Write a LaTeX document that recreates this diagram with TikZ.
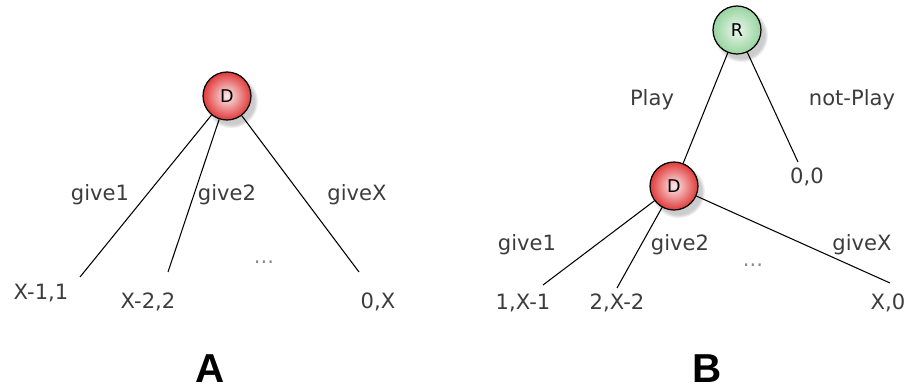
\documentclass[tikz,border=0pt]{standalone}
\usepackage{fontspec}
\setmainfont{DejaVu Sans}
\newfontfamily\fuentetitulo{Liberation Sans}
\usepackage{xcolor}
\usepackage{tikz}
\usetikzlibrary{positioning, shadows}
\definecolor{rojojugador}{HTML}{E03A3A}
\definecolor{verdejugador}{HTML}{98D4A0}
\definecolor{grisetiqueta}{HTML}{3C3C3C}
\definecolor{grispuntos}{HTML}{8A8A8A}

\begin{document}
\begin{tikzpicture}[
    x=0.02cm, y=-0.02cm,
    every node/.style={font=\fontsize{12}{14}\selectfont\color{grisetiqueta}},
    jugador/.style={circle, draw=black, line width=0.7pt, minimum size=0.96cm,
        inner sep=0pt, font=\fontsize{10}{11}\selectfont\color{black},
        circular drop shadow={shadow xshift=0.4ex, shadow yshift=-0.5ex,
            shadow scale=1.12, opacity=0.4}},
    rama/.style={line width=0.6pt, black}
]
\useasboundingbox (0,0) rectangle (910,389);

% arbol A
\node[jugador, inner color=rojojugador!10!white, outer color=rojojugador]
    (dA) at (227,96) {D};
\coordinate (hojaA1) at (80,277);
\coordinate (hojaA2) at (168,272);
\coordinate (hojaAX) at (359,272);
\draw[rama] (dA) -- (hojaA1);
\draw[rama] (dA) -- (hojaA2);
\draw[rama] (dA) -- (hojaAX);
\node (darA1) at (100,195) {give1};
\node (darA2) at (227,195) {give2};
\node (darAX) at (357,195) {giveX};
\node[color=grispuntos] (puntosA) at (264,262) {...};
\node (pagoA1) at (41,293) {X-1,1};
\node (pagoA2) at (148,302) {X-2,2};
\node (pagoAX) at (378,302) {0,X};
\node[font=\fuentetitulo\fontsize{23}{26}\selectfont\bfseries\color{black}]
    (tituloA) at (210,369) {A};

% arbol B
\node[jugador, inner color=verdejugador!20!white, outer color=verdejugador]
    (rB) at (737,30) {R};
\node[jugador, inner color=rojojugador!10!white, outer color=rojojugador]
    (dB) at (674,186) {D};
\coordinate (hojaB0) at (798,162);
\coordinate (hojaB1) at (543,285);
\coordinate (hojaB2) at (617,288);
\coordinate (hojaBX) at (890,283);
\draw[rama] (rB) -- (dB);
\draw[rama] (rB) -- (hojaB0);
\draw[rama] (dB) -- (hojaB1);
\draw[rama] (dB) -- (hojaB2);
\draw[rama] (dB) -- (hojaBX);
\node (jugar) at (652,100) {Play};
\node (nojugar) at (852,100) {not-Play};
\node (pagoB0) at (807,177) {0,0};
\node (darB1) at (527,245) {give1};
\node (darB2) at (680,245) {give2};
\node (darBX) at (862,245) {giveX};
\node[color=grispuntos] (puntosB) at (753,265) {...};
\node (pagoB1) at (523,303) {1,X-1};
\node (pagoB2) at (617,303) {2,X-2};
\node (pagoBX) at (888,303) {X,0};
\node[font=\fuentetitulo\fontsize{23}{26}\selectfont\bfseries\color{black}]
    (tituloB) at (707,369) {B};
\end{tikzpicture}
\end{document}
